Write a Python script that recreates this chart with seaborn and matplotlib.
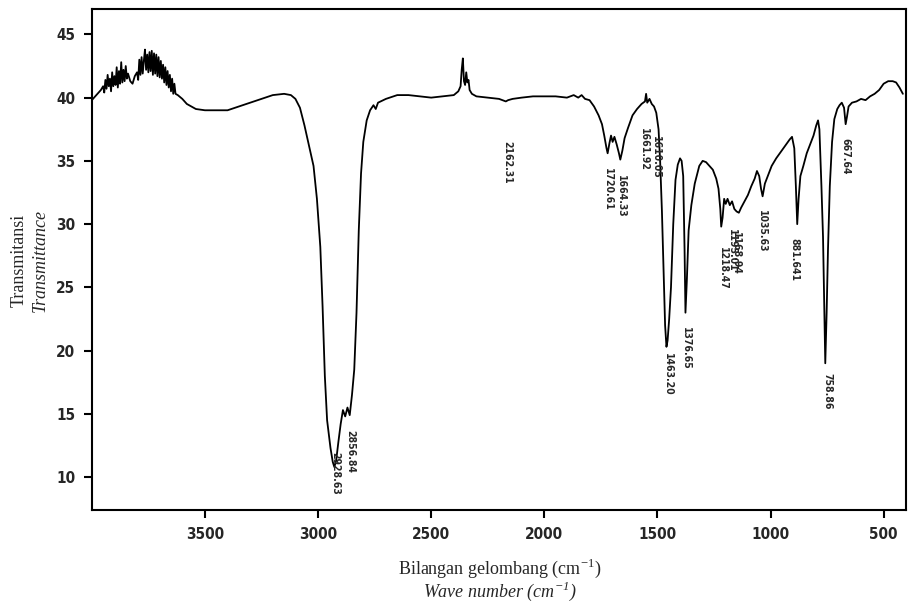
import matplotlib
matplotlib.use("Agg")
import pandas as pd
import seaborn as sns
import matplotlib.pyplot as plt

# FTIR spectrum
wavenumber = [
    4000, 3990, 3975, 3960, 3950, 3945, 3940, 3935, 3930, 3925, 3920, 3915, 3910, 3905,
    3900, 3895, 3890, 3885, 3880, 3875, 3870, 3865, 3860, 3855, 3850, 3845, 3840, 3830,
    3820, 3810, 3800, 3795, 3790, 3785, 3780, 3775, 3770, 3765, 3760, 3755, 3750, 3745,
    3740, 3735, 3730, 3725, 3720, 3715, 3710, 3705, 3700, 3695, 3690, 3685, 3680, 3675,
    3670, 3665, 3660, 3655, 3650, 3645, 3640, 3635, 3630, 3620, 3600, 3580, 3560, 3540,
    3500, 3450, 3400, 3350, 3300, 3250, 3200, 3150, 3120, 3100, 3080, 3060, 3040, 3020,
    3005, 2990, 2980, 2970, 2960, 2945, 2935, 2928, 2920, 2910, 2900, 2890, 2880, 2870,
    2860, 2850, 2840, 2830, 2820, 2810, 2800, 2785, 2770, 2755, 2745, 2735, 2700, 2650,
    2600, 2550, 2500, 2450, 2400, 2380, 2370, 2365, 2360, 2355, 2350, 2345, 2340, 2335,
    2330, 2320, 2300, 2250, 2200, 2170, 2160, 2140, 2100, 2050, 2000, 1950, 1900, 1870,
    1850, 1835, 1820, 1800, 1780, 1760, 1745, 1735, 1725, 1720, 1712, 1705, 1698, 1690,
    1680, 1670, 1664, 1655, 1645, 1630, 1610, 1590, 1570, 1555, 1550, 1545, 1535, 1525,
    1515, 1505, 1495, 1488, 1480, 1472, 1466, 1460, 1455, 1448, 1440, 1430, 1420, 1410,
    1400, 1393, 1386, 1380, 1376, 1370, 1362, 1350, 1335, 1315, 1300, 1285, 1270, 1255,
    1240, 1230, 1222, 1218, 1212, 1205, 1198, 1190, 1180, 1170, 1160, 1150, 1140, 1130,
    1115, 1100, 1085, 1070, 1060, 1050, 1042, 1035, 1025, 1010, 995, 975, 955, 935,
    915, 905, 895, 888, 882, 876, 868, 855, 840, 825, 810, 798, 790, 784,
    775, 768, 762, 758, 752, 746, 738, 728, 718, 705, 695, 685, 675, 668,
    662, 655, 640, 620, 600, 580, 560, 540, 520, 500, 480, 460, 445, 430,
    415,
]
transmittance = [
    39.8, 40.0, 40.3, 40.6, 40.9, 40.4, 41.4, 40.7, 41.8, 40.9, 41.5, 40.5, 42.0, 40.9,
    41.7, 41.0, 42.4, 40.8, 42.1, 41.1, 42.8, 41.2, 42.2, 41.3, 42.5, 41.5, 41.9, 41.3,
    41.1, 41.7, 42.0, 41.4, 43.0, 41.8, 43.2, 41.9, 42.9, 43.8, 42.2, 43.4, 42.0, 43.6,
    42.1, 43.7, 41.8, 43.5, 41.9, 43.4, 41.7, 43.2, 41.6, 42.9, 41.5, 42.6, 41.2, 42.4,
    41.0, 42.1, 40.8, 41.8, 40.5, 41.5, 40.3, 41.1, 40.3, 40.2, 39.9, 39.5, 39.3, 39.1,
    39.0, 39.0, 39.0, 39.3, 39.6, 39.9, 40.2, 40.3, 40.2, 39.9, 39.2, 37.8, 36.2, 34.6,
    32.0, 28.2, 23.5, 18.0, 14.5, 12.3, 11.2, 10.8, 11.3, 12.8, 14.2, 15.3, 14.8, 15.5,
    14.9, 16.5, 18.5, 23.0, 29.5, 34.0, 36.5, 38.2, 39.0, 39.4, 39.1, 39.6, 39.9, 40.2,
    40.2, 40.1, 40.0, 40.1, 40.2, 40.5, 40.9, 42.2, 43.1, 41.3, 41.0, 42.0, 41.2, 41.4,
    40.6, 40.3, 40.1, 40.0, 39.9, 39.7, 39.8, 39.9, 40.0, 40.1, 40.1, 40.1, 40.0, 40.2,
    40.0, 40.2, 39.9, 39.8, 39.3, 38.6, 37.9, 37.0, 36.0, 35.6, 36.4, 37.0, 36.5, 36.9,
    36.3, 35.6, 35.1, 35.8, 36.8, 37.6, 38.6, 39.1, 39.5, 39.7, 40.3, 39.6, 39.9, 39.5,
    39.3, 38.8, 37.5, 35.0, 31.0, 26.0, 22.0, 20.3, 20.8, 22.5, 25.0, 30.0, 33.5, 34.7,
    35.2, 35.0, 33.8, 28.0, 23.0, 25.5, 29.5, 31.5, 33.2, 34.6, 35.0, 34.9, 34.6, 34.3,
    33.6, 32.8, 31.2, 29.8, 30.5, 32.0, 31.6, 32.0, 31.5, 31.8, 31.2, 31.0, 30.9, 31.3,
    31.8, 32.3, 33.0, 33.6, 34.2, 33.8, 32.8, 32.2, 33.2, 33.9, 34.6, 35.2, 35.7, 36.2,
    36.7, 36.9, 36.0, 33.0, 30.0, 32.0, 33.8, 34.6, 35.6, 36.3, 37.0, 37.8, 38.2, 37.5,
    33.0, 29.0, 23.0, 19.0, 23.0, 28.0, 33.0, 36.5, 38.3, 39.1, 39.4, 39.6, 39.2, 37.9,
    38.5, 39.3, 39.6, 39.7, 39.9, 39.8, 40.1, 40.3, 40.6, 41.1, 41.3, 41.3, 41.2, 40.8,
    40.3,
]

# peak annotations: text, x position, top of text (in data units)
peak_labels = ["2928.63", "2856.84", "2162.31", "1720.61", "1664.33", "1661.92",
               "1610.05", "1463.20", "1376.65", "1218.47", "1195.01", "1168.94",
               "1035.63", "881.641", "758.86", "667.64"]
peak_x = [2925, 2857, 2162, 1719, 1661, 1560, 1506, 1452, 1374, 1212, 1170, 1152,
          1038, 893, 750, 670]
peak_y = [12.0, 13.7, 36.6, 34.4, 33.9, 37.6, 37.0, 19.8, 21.9, 28.2, 29.6, 29.4,
          31.1, 28.9, 18.2, 36.8]

x_ticks = [3500, 3000, 2500, 2000, 1500, 1000, 500]
y_ticks = [10, 15, 20, 25, 30, 35, 40, 45]

df = pd.DataFrame({"wavenumber": wavenumber, "transmittance": transmittance})

sns.set_style("ticks")
fig = plt.figure(figsize=(9.09, 6.05), dpi=100)
ax = fig.add_axes([0.101, 0.157, 0.896, 0.828])
sns.lineplot(data=df, x="wavenumber", y="transmittance", color="black",
             linewidth=1.3, sort=False, ax=ax)

ax.set_xlim(4000, 400)
ax.set_ylim(7.4, 47)
ax.set_xticks(x_ticks)
ax.set_yticks(y_ticks)
narrow = ["Liberation Sans Narrow", "DejaVu Sans"]
tick_font = dict(family=narrow, weight="bold", stretch="condensed", size=11)
ax.set_xticklabels([str(t) for t in x_ticks], **tick_font)
ax.set_yticklabels([str(t) for t in y_ticks], **tick_font)
ax.tick_params(direction="out", length=6, width=1.5, color="black", pad=6)
for s in ax.spines.values():
    s.set_linewidth(1.5)
    s.set_color("black")
ax.set_xlabel("")
ax.set_ylabel("")

for txt, px, py in zip(peak_labels, peak_x, peak_y):
    ax.text(px, py, txt, rotation=270, ha="center", va="top",
            family=narrow, weight="bold", stretch="condensed", size=7.5)

serif = ["Liberation Serif", "DejaVu Serif"]
fig.text(0.55, 0.06, "Bilangan gelombang (cm$^{\\mathregular{-1}}$)", ha="center", va="center",
         family=serif, size=13)
fig.text(0.55, 0.022, "Wave number (cm$^{\\mathregular{-1}}$)", ha="center", va="center",
         family=serif, size=13, style="italic")
fig.text(0.021, 0.57, "Transmitansi", rotation=90, ha="center", va="center",
         family=serif, size=13)
fig.text(0.044, 0.57, "Transmittance", rotation=90, ha="center", va="center",
         family=serif, size=13, style="italic")

fig.savefig("out.png", dpi=100)
